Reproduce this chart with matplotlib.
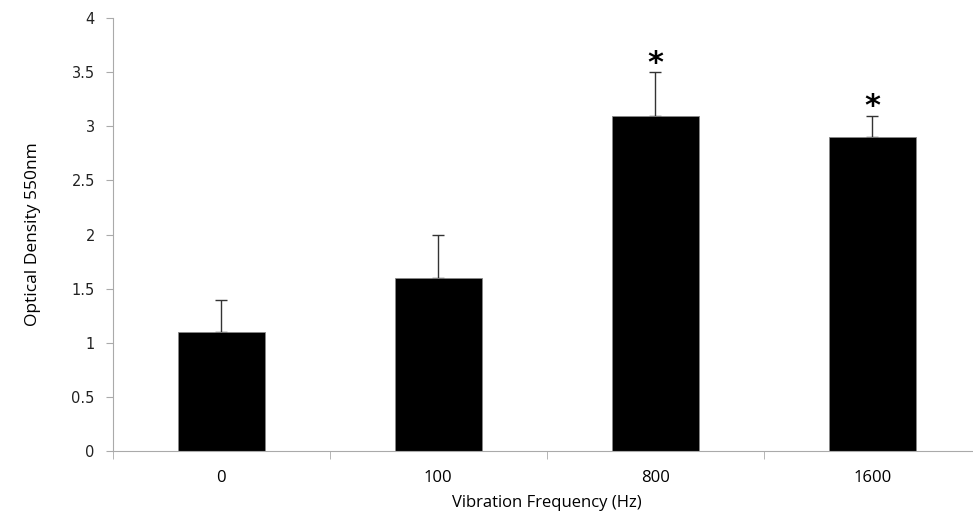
import numpy as np
import matplotlib
matplotlib.use("Agg")
import matplotlib.pyplot as plt

# Data
categories = ["0", "100", "800", "1600"]
density = [1.1, 1.6, 3.1, 2.9]
err_upper = [0.3, 0.4, 0.4, 0.2]
significant = [False, False, True, True]
y_ticks = [0, 0.5, 1, 1.5, 2, 2.5, 3, 3.5, 4]

fig = plt.figure(figsize=(9.73, 5.19), dpi=100)
ax = fig.add_axes([0.116, 0.131, 0.892, 0.834])

x = np.arange(len(categories))
ax.bar(x, density, width=0.4, color="black", edgecolor="#888888", linewidth=0.6, zorder=2)
ax.errorbar(x, density, yerr=[np.zeros(len(err_upper)), err_upper], fmt="none",
            ecolor="#333333", elinewidth=1, capsize=4, capthick=1, zorder=1)

# significance stars just above the caps
for xi, d, e, sig in zip(x, density, err_upper, significant):
    if sig:
        ax.text(xi, d + e - 0.05, "*", ha="center", va="bottom", fontsize=22,
                fontweight="bold", color="black")

ax.set_xlim(-0.5, 3.5)
ax.set_ylim(0, 4)
ax.set_yticks(y_ticks)
ax.set_yticklabels([f"{t:g}" for t in y_ticks], fontsize=10.5, color="#222222")
ax.set_xticks(x)
ax.set_xticklabels(categories, fontsize=12, family="Open Sans")
ax.set_xticks(np.arange(-0.5, 3.6, 1), minor=True)
ax.tick_params(axis="x", which="major", length=0, pad=14)
ax.tick_params(axis="x", which="minor", length=6, color="#aaaaaa")
ax.tick_params(axis="y", length=5, color="#aaaaaa", pad=8)

for side in ["top", "right"]:
    ax.spines[side].set_visible(False)
ax.spines["left"].set_color("#aaaaaa")
ax.spines["bottom"].set_color("#aaaaaa")

ax.set_xlabel("Vibration Frequency (Hz)", fontsize=12, family="Open Sans", labelpad=6)
ax.set_ylabel("Optical Density 550nm", fontsize=12.5,
              family=["Liberation Sans Narrow", "Open Sans"], labelpad=22)

fig.savefig("out.png", dpi=100)
